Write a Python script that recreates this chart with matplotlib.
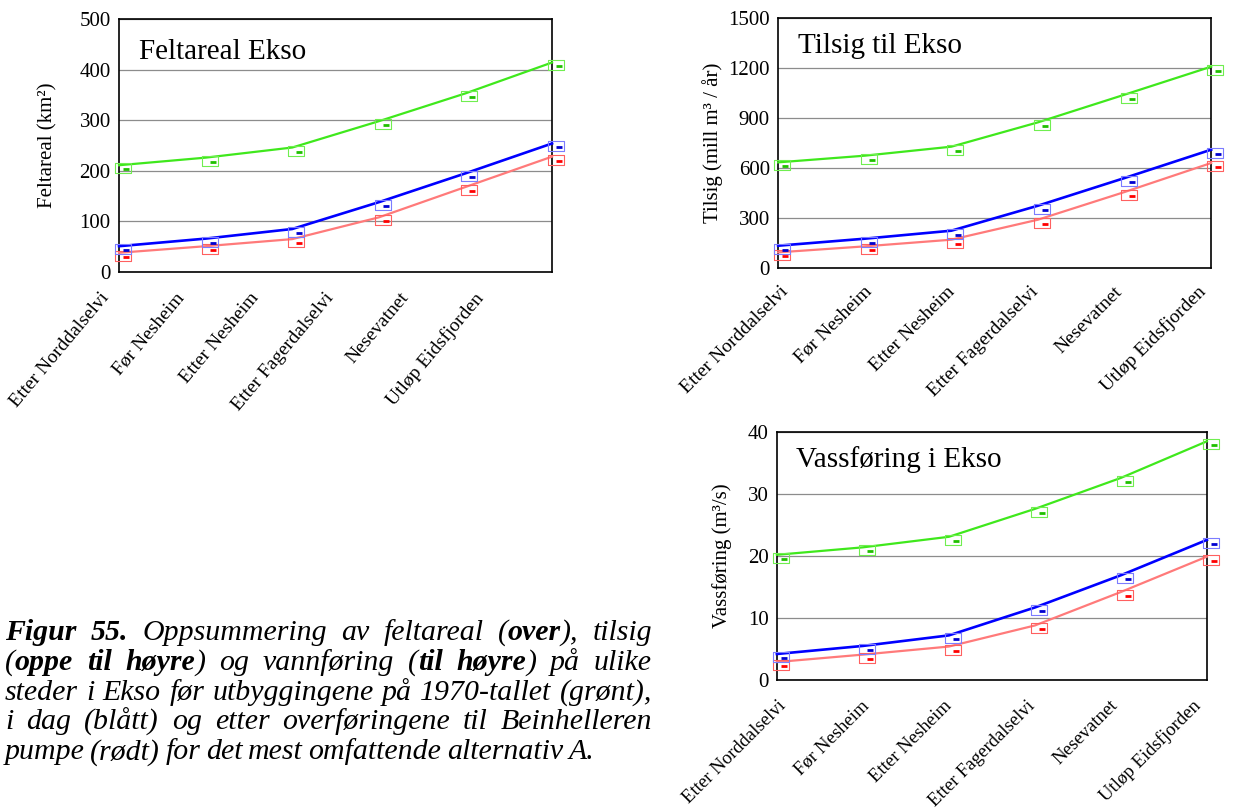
import numpy as np
import matplotlib
matplotlib.use("Agg")
from matplotlib import pyplot as plt
from matplotlib import transforms

plt.rcParams['font.family'] = ['Liberation Serif', 'DejaVu Serif']

# steder langs Ekso
steder = ['Etter Norddalselvi', 'Før Nesheim', 'Etter Nesheim',
          'Etter Fagerdalselvi', 'Nesevatnet', 'Utløp Eidsfjorden']

# feltareal (km2)
areal_for = [211, 226, 246, 298, 353, 414]
areal_idag = [51, 66, 85, 138, 195, 254]
areal_etter = [38, 51, 65, 108, 168, 228]

# tilsig (mill m3 / aar)
tilsig_for = [634, 674, 728, 874, 1040, 1208]
tilsig_idag = [134, 176, 224, 374, 540, 710]
tilsig_etter = [94, 130, 170, 290, 456, 630]

# vassfoering (m3/s)
vass_for = [20.2, 21.4, 23.1, 27.6, 32.6, 38.5]
vass_idag = [4.2, 5.5, 7.2, 11.7, 16.9, 22.6]
vass_etter = [2.9, 4.1, 5.4, 8.8, 14.2, 19.9]

GREEN = '#3fe81c'
BLUE = '#0000ff'
RED = '#ff7a7a'
MARK = {GREEN: ('#70ee50', '#20c000'), BLUE: ('#7c7cff', '#0000d0'), RED: ('#ff6060', '#ff0000')}

box = [(-1.5, -1), (1.5, -1), (1.5, 1), (-1.5, 1), (-1.5, -1)]

fig = plt.figure(figsize=(12.53, 8.11), dpi=100)


def panel(rect, series, ymax, ystep, title, title_y, ylabel, ylabel_x, lab0, lab_step, lab_y, rot, lab_fs):
    ax = fig.add_axes(rect)
    x = np.arange(len(steder))
    off = transforms.offset_copy(ax.transData, fig=fig, x=4, y=-3, units='dots')
    off2 = transforms.offset_copy(ax.transData, fig=fig, x=7, y=-4, units='dots')
    for vals, col, lw in series:
        ax.plot(x, vals, color=col, lw=lw, zorder=3, clip_on=False)
        ax.plot(x, vals, ls='none', marker=box, ms=11, mfc='none', mec=MARK[col][0],
                mew=0.8, transform=off, zorder=4, clip_on=False)
        ax.plot(x, vals, ls='none', marker='_', ms=5, mec=MARK[col][1],
                mew=2, transform=off2, zorder=4, clip_on=False)
    ax.set_xlim(0, len(steder) - 1)
    ax.set_ylim(0, ymax)
    ax.set_yticks(np.arange(0, ymax + ystep / 2, ystep))
    ax.yaxis.grid(True, color='#8c8c8c', lw=0.9)
    ax.set_axisbelow(True)
    ax.tick_params(axis='y', length=0, labelsize=15, pad=6)
    ax.set_xticks([])
    # kategorinavn, skraatt
    for i, navn in enumerate(steder):
        ax.text(lab0 + i * lab_step, lab_y, navn, transform=ax.transAxes, rotation=rot,
                rotation_mode='anchor', ha='right', va='center', fontsize=lab_fs, clip_on=False)
    for s in ax.spines.values():
        s.set_color('black')
        s.set_linewidth(1.2)
    ax.text(0.045, title_y, title, transform=ax.transAxes, fontsize=21, va='baseline')
    ax.text(ylabel_x, 0.5, ylabel, transform=ax.transAxes, rotation=90,
            ha='center', va='center', fontsize=15)
    return ax


panel([0.095, 0.6646, 0.3456, 0.312],
      [(areal_for, GREEN, 1.6), (areal_etter, RED, 1.6), (areal_idag, BLUE, 1.9)],
      500, 100, 'Feltareal Ekso', 0.842, 'Feltareal (km²)', -0.164,
      -0.030, 0.173, -0.091, 50, 14)

panel([0.621, 0.6695, 0.3456, 0.3083],
      [(tilsig_for, GREEN, 1.6), (tilsig_etter, RED, 1.6), (tilsig_idag, BLUE, 1.9)],
      1500, 300, 'Tilsig til Ekso', 0.86, 'Tilsig (mill m³ / år)', -0.152,
      0.018, 0.1926, -0.084, 45, 14)

panel([0.620, 0.1615, 0.3432, 0.3058],
      [(vass_for, GREEN, 1.6), (vass_etter, RED, 1.6), (vass_idag, BLUE, 1.9)],
      40, 10, 'Vassføring i Ekso', 0.859, 'Vassføring (m³/s)', -0.128,
      0.016, 0.1926, -0.093, 45, 13.5)

# figurtekst, justert
caption = [
    "**Figur 55.** Oppsummering av feltareal (**over**), tilsig",
    "(**oppe til høyre**) og vannføring (**til høyre**) på ulike",
    "steder i Ekso før utbyggingene på 1970-tallet (grønt),",
    "i dag (blått) og etter overføringene til Beinhelleren",
    "pumpe (rødt) for det mest omfattende alternativ A.",
]
W, H = 1253, 811
x_left, x_right = 5, 652
renderer = fig.canvas.get_renderer()
bold = False
for i, line in enumerate(caption):
    y = 1 - (640 + 29.8 * i) / H
    words = []
    for w in line.split(' '):
        segs = []
        for j, part in enumerate(w.split('**')):
            if j > 0:
                bold = not bold
            if part:
                segs.append((part, bold))
        words.append(segs)
    arts = []
    widths = []
    for segs in words:
        wa = []
        ww = 0
        for part, b in segs:
            t = fig.text(0, y, part, fontsize=21.5, style='italic',
                         weight='bold' if b else 'normal', va='baseline')
            bb = t.get_window_extent(renderer)
            wa.append((t, bb.width))
            ww += bb.width
        arts.append(wa)
        widths.append(ww)
    if i < len(caption) - 1:
        gap = (x_right - x_left - sum(widths)) / (len(words) - 1)
    else:
        gap = 5.5
    xp = x_left
    for wa, ww in zip(arts, widths):
        xs = xp
        for t, tw in wa:
            t.set_x(xs / W)
            xs += tw
        xp += ww + gap

fig.savefig('out.png', dpi=100)
